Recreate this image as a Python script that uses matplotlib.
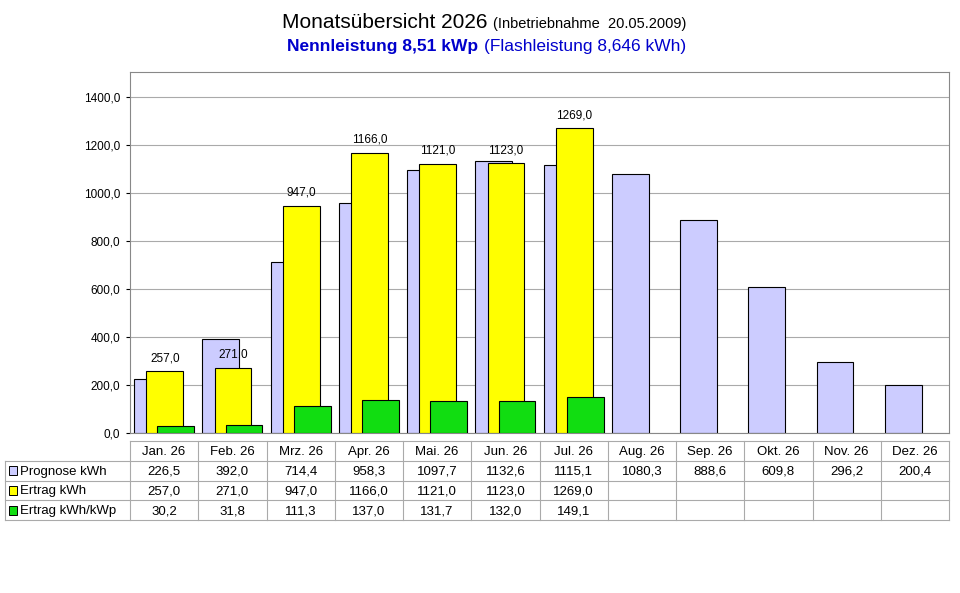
import matplotlib
matplotlib.use("Agg")
import matplotlib.pyplot as plt
from matplotlib.patches import Rectangle

plt.rcParams['font.family'] = ['Liberation Sans', 'DejaVu Sans']

months = ['Jan. 26', 'Feb. 26', 'Mrz. 26', 'Apr. 26', 'Mai. 26', 'Jun. 26', 'Jul. 26',
          'Aug. 26', 'Sep. 26', 'Okt. 26', 'Nov. 26', 'Dez. 26']
prognose = [226.5, 392.0, 714.4, 958.3, 1097.7, 1132.6, 1115.1, 1080.3, 888.6, 609.8, 296.2, 200.4]
ertrag = [257.0, 271.0, 947.0, 1166.0, 1121.0, 1123.0, 1269.0]
ertrag_kwp = [30.2, 31.8, 111.3, 137.0, 131.7, 132.0, 149.1]

c_prog = '#CCCCFF'
c_ertr = '#FFFF00'
c_kwp = '#11DD11'

def fmt(v):
    return f'{v:.1f}'.replace('.', ',')

W, H = 960, 593
fig = plt.figure(figsize=(9.6, 5.93), dpi=100)

def px(x0, y0, x1, y1):
    return [x0 / W, 1 - y1 / H, (x1 - x0) / W, (y1 - y0) / H]

ax = fig.add_axes(px(130, 72, 949, 433))
for i, v in enumerate(prognose):
    ax.bar(i + 0.06, v, width=0.54, align='edge', color=c_prog, edgecolor='black', lw=0.8, zorder=2)
for i, v in enumerate(ertrag):
    ax.bar(i + 0.24, v, width=0.54, align='edge', color=c_ertr, edgecolor='black', lw=0.8, zorder=3)
    ax.text(i + 0.51, v + 30, fmt(v), ha='center', va='bottom', fontsize=8.5, zorder=5)
for i, v in enumerate(ertrag_kwp):
    ax.bar(i + 0.4, v, width=0.54, align='edge', color=c_kwp, edgecolor='black', lw=0.8, zorder=4)

ax.set_xlim(0, 12)
ax.set_ylim(0, 1504)
ax.set_yticks(range(0, 1401, 200))
ax.set_yticklabels([fmt(t) for t in range(0, 1401, 200)], fontsize=8.5)
ax.set_xticks([])
ax.grid(axis='y', color='#AAAAAA', lw=0.8, zorder=0)
for s in ax.spines.values():
    s.set_color('#888888')
ax.tick_params(axis='y', length=3, pad=4)

# table
tx = fig.add_axes(px(5, 441, 949, 520))
left = -125 / (819 / 12)
tx.set_xlim(left, 12)
tx.set_ylim(4, 0)
tx.axis('off')
grid = '#AAAAAA'
for r in range(5):
    x0 = 0 if r == 0 else left
    tx.plot([x0, 12], [r, r], color=grid, lw=0.8, clip_on=False)
tx.plot([left, left], [1, 4], color=grid, lw=0.8, clip_on=False)
for c in range(13):
    tx.plot([c, c], [0, 4], color=grid, lw=0.8, clip_on=False)
for i, m in enumerate(months):
    tx.text(i + 0.5, 0.55, m, ha='center', va='center', fontsize=9.5)
rows = [('Prognose kWh', c_prog, prognose), ('Ertrag kWh', c_ertr, ertrag),
        ('Ertrag kWh/kWp', c_kwp, ertrag_kwp)]
u = 1 / (819 / 12)
for r, (name, col, vals) in enumerate(rows, start=1):
    tx.add_patch(Rectangle((left + 4 * u, r + 0.28), 8 * u, 0.45, facecolor=col,
                           edgecolor='black', lw=0.7, clip_on=False))
    tx.text(left + 15 * u, r + 0.55, name, ha='left', va='center', fontsize=9.5)
    for i, v in enumerate(vals):
        tx.text(i + 0.5, r + 0.55, fmt(v), ha='center', va='center', fontsize=9.5)

fig.text(488 / W, 1 - 23 / H, 'Monatsübersicht 2026', ha='right', va='center', fontsize=15)
fig.text(493 / W, 1 - 24 / H, '(Inbetriebnahme  20.05.2009)', ha='left', va='center', fontsize=10.5)
fig.text(478 / W, 1 - 47 / H, 'Nennleistung 8,51 kWp', ha='right', va='center', fontsize=12.5,
         color='#0000CC', fontweight='bold')
fig.text(484 / W, 1 - 47 / H, '(Flashleistung 8,646 kWh)', ha='left', va='center', fontsize=12.5,
         color='#0000CC')

fig.savefig('out.png', dpi=100)
